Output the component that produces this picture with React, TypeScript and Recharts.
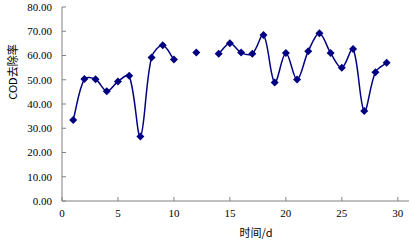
import { LineChart, Line, XAxis, YAxis, Label } from "recharts";

const days = [1, 2, 3, 4, 5, 6, 7, 8, 9, 10, 11, 12, 13, 14, 15, 16, 17, 18, 19, 20, 21, 22, 23, 24, 25, 26, 27, 28, 29];
const removal = [
  33.4, 50.3, 50.2, 45.3, 49.3, 51.6, 26.6, 59.2, 64.2, 58.3,
  null, 61.2, null, 60.7, 65.1, 61.2, 60.7, 68.5, 48.9, 61.0,
  50.1, 61.8, 69.2, 61.0, 54.9, 62.7, 37.1, 53.1, 57.0,
];
const xTicks = [0, 5, 10, 15, 20, 25, 30];
const yTicks = [0, 10, 20, 30, 40, 50, 60, 70, 80];

const data = days.map((d, i) => ({ day: d, value: removal[i] }));

const NAVY = "#000080";
const AXIS = "#808080";
const tickFont = { fontFamily: "'Liberation Serif', serif", fontSize: 11, fill: "#000" };
const cjkFont = "'Noto Sans CJK SC', sans-serif";

// Excel-like smoothed line: bezier tangents scaled by neighbouring segment lengths
function excelSmooth(context: any) {
  let pts: [number, number][] = [];
  const dist = (a: [number, number], b: [number, number]) => Math.hypot(a[0] - b[0], a[1] - b[1]);
  return {
    areaStart() {},
    areaEnd() {},
    lineStart() {
      pts = [];
    },
    lineEnd() {
      const n = pts.length;
      if (n === 0) return;
      context.moveTo(pts[0][0], pts[0][1]);
      const f = 1 / 3;
      for (let i = 0; i < n - 1; i++) {
        const p0 = pts[Math.max(i - 1, 0)];
        const p1 = pts[i];
        const p2 = pts[i + 1];
        const p3 = pts[Math.min(i + 2, n - 1)];
        const d01 = dist(p0, p1);
        const d12 = dist(p1, p2);
        const d23 = dist(p2, p3);
        const k1 = d01 + d12 > 0 ? (f * d12) / (d01 + d12) : 0;
        const k2 = d12 + d23 > 0 ? (f * d12) / (d12 + d23) : 0;
        context.bezierCurveTo(
          p1[0] + (p2[0] - p0[0]) * k1,
          p1[1] + (p2[1] - p0[1]) * k1,
          p2[0] - (p3[0] - p1[0]) * k2,
          p2[1] - (p3[1] - p1[1]) * k2,
          p2[0],
          p2[1]
        );
      }
    },
    point(x: number, y: number) {
      pts.push([+x, +y]);
    },
  };
}

function Diamond(props: any) {
  const { cx, cy, index } = props;
  if (cx == null || cy == null || props.value == null) return <g key={`d${index}`} />;
  const r = 4;
  return (
    <polygon
      key={`d${index}`}
      points={`${cx},${cy - r} ${cx + r},${cy} ${cx},${cy + r} ${cx - r},${cy}`}
      fill={NAVY}
    />
  );
}

export default function App() {
  return (
    <div style={{ position: "absolute", left: 0, top: 0, background: "#fff" }}>
      <LineChart width={411} height={240} data={data} margin={{ top: 7, right: 2, left: 0, bottom: 0 }}>
        <XAxis
          dataKey="day"
          type="number"
          domain={[0, 31]}
          ticks={xTicks}
          interval={0}
          height={39}
          stroke={AXIS}
          tickSize={-4}
          tickMargin={12}
          tick={tickFont}
        >
          <Label
            content={() => (
              <text x={256} y={237} textAnchor="middle" fontFamily={cjkFont} fontSize={11} fill="#000">
                时间/d
              </text>
            )}
          />
        </XAxis>
        <YAxis
          type="number"
          domain={[0, 80]}
          ticks={yTicks}
          interval={0}
          width={62}
          stroke={AXIS}
          tickSize={-4}
          tickMargin={14}
          tick={tickFont}
          tickFormatter={(v: number) => v.toFixed(2)}
        >
          <Label
            content={() => (
              <text
                x={17}
                y={72}
                textAnchor="middle"
                fontFamily={cjkFont}
                fontSize={11}
                fill="#000"
                transform="rotate(-90 17 72)"
              >
                COD去除率
              </text>
            )}
          />
        </YAxis>
        <Line
          dataKey="value"
          type={excelSmooth as any}
          stroke={NAVY}
          strokeWidth={1.5}
          dot={Diamond}
          activeDot={false}
          connectNulls={false}
          isAnimationActive={false}
        />
      </LineChart>
    </div>
  );
}
